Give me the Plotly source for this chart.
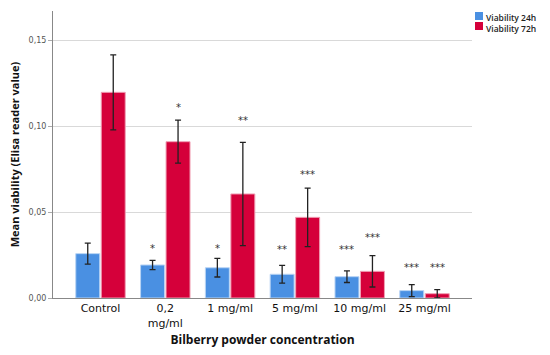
import plotly.graph_objects as go

categories = ["Control", "0,2<br>mg/ml", "1 mg/ml", "5 mg/ml", "10 mg/ml", "25 mg/ml"]
series_names = ["Viability 24h", "Viability 72h"]
v24 = [0.0258, 0.0192, 0.0176, 0.0138, 0.0124, 0.0043]
e24 = [0.0061, 0.0027, 0.0054, 0.0052, 0.0034, 0.0035]
v72 = [0.1196, 0.0909, 0.0605, 0.0469, 0.0155, 0.0025]
e72 = [0.0218, 0.0125, 0.0300, 0.0170, 0.0091, 0.0024]
sig24 = ["", "*", "*", "**", "***", "***"]
sig24_y = [None, 0.0290, 0.0285, 0.0280, 0.0280, 0.0180]
sig72 = ["", "*", "**", "***", "***", "***"]
sig72_y = [None, 0.1110, 0.1030, 0.0720, 0.0350, 0.0180]
yticks = [0.0, 0.05, 0.10, 0.15]

FONT = "DejaVu Sans"
TFONT = "Open Sans"
BLUE = "#4a90e2"
RED = "#d5003a"
colors = [BLUE, RED]

fig = go.Figure()
fig.add_trace(go.Bar(
    name=series_names[0], x=categories, y=v24,
    marker=dict(color=BLUE, line=dict(color="#b9d4f4", width=1)),
    error_y=dict(type="data", array=e24, color="#222222", thickness=1.3, width=3),
))
fig.add_trace(go.Bar(
    name=series_names[1], x=categories, y=v72,
    marker=dict(color=RED, line=dict(color="#ef9fb4", width=1)),
    error_y=dict(type="data", array=e72, color="#222222", thickness=1.3, width=3),
))

annotations = []
for i, cat in enumerate(categories):
    if sig24[i]:
        annotations.append(dict(x=i - 0.197, y=sig24_y[i], xref="x", yref="y",
                                text=sig24[i], showarrow=False,
                                font=dict(family=FONT, size=10, color="#333333")))
    if sig72[i]:
        annotations.append(dict(x=i + 0.197, y=sig72_y[i], xref="x", yref="y",
                                text=sig72[i], showarrow=False,
                                font=dict(family=FONT, size=10, color="#333333")))

# manual compact legend
shapes = []
for k, c in enumerate(colors):
    y_top = 0.9965 - k * 0.0348
    shapes.append(dict(type="rect", xref="paper", yref="paper",
                       x0=1.0072, x1=1.0263, y0=y_top - 0.0279, y1=y_top,
                       fillcolor=c, line=dict(width=0)))
annotations.append(dict(x=1.029, y=1.005, xref="paper", yref="paper",
                        text="<br>".join(series_names), showarrow=False,
                        xanchor="left", yanchor="top", align="left",
                        font=dict(family=TFONT, size=8.5, color="#222222", weight=600)))

fig.update_layout(
    width=550, height=355,
    margin=dict(l=53, r=78, t=11, b=57),
    paper_bgcolor="white", plot_bgcolor="white",
    separators=",.",
    barmode="group", bargap=0.213, bargroupgap=0.06,
    font=dict(family=FONT, color="#222222"),
    showlegend=False,
    annotations=annotations,
    shapes=shapes,
)
fig.update_xaxes(
    range=[-0.733, 5.733], automargin=False,
    showline=True, linecolor="#888888", linewidth=1,
    ticks="", tickangle=0,
    tickfont=dict(family=FONT, size=11, color="#111111"),
    title=dict(text="<b>Bilberry powder concentration</b>",
               font=dict(family=TFONT, size=12, color="#111111"), standoff=7),
)
fig.update_yaxes(
    range=[0, 0.1669], tickvals=yticks, tickformat=".2f", automargin=False,
    showline=True, linecolor="#888888", linewidth=1,
    ticks="outside", ticklen=4, tickcolor="#aaaaaa",
    showgrid=True, gridcolor="#d9d9d9", gridwidth=1,
    zeroline=False,
    tickfont=dict(family=FONT, size=8, color="#555555"),
    title=dict(text="<b>Mean viability (Elisa reader value)</b>",
               font=dict(family=TFONT, size=11, color="#111111"), standoff=6),
)

fig.write_html("out.html", config={"displayModeBar": False},
               post_script="document.body.style.margin='0';document.body.style.overflow='hidden';")
